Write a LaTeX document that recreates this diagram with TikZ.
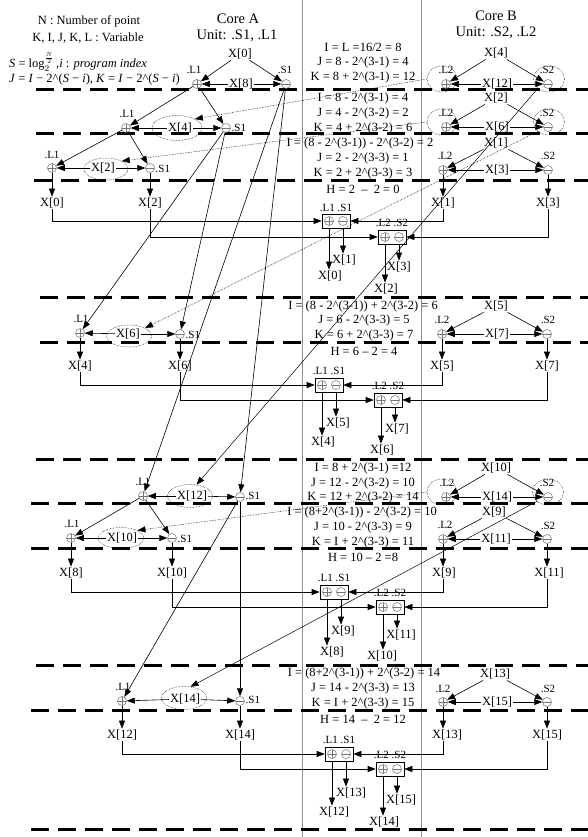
\documentclass[tikz,border=0pt]{standalone}
\usepackage{fontspec}
\setmainfont{Liberation Serif}
\usetikzlibrary{arrows.meta,shapes.geometric,calc}
\newcommand{\crt}{\textasciicircum}
\begin{document}
\begin{tikzpicture}[x=1pt,y=-1pt,
  lbl/.style={font=\fontsize{12.5}{14}\selectfont, inner sep=1pt},
  sml/.style={font=\fontsize{11}{12}\selectfont, inner sep=0.5pt},
  hdr/.style={font=\fontsize{14.5}{16}\selectfont, inner sep=1pt},
  eq/.style={font=\fontsize{12.5}{14}\selectfont, inner sep=0.5pt},
  opp/.style={circle, draw=black!55, line width=0.5pt, minimum size=9pt, inner sep=0pt,
    path picture={\draw[black!55,line width=0.5pt] (path picture bounding box.west) -- (path picture bounding box.east) (path picture bounding box.north) -- (path picture bounding box.south);}},
  opm/.style={circle, draw=black!55, line width=0.5pt, minimum size=9pt, inner sep=0pt,
    path picture={\draw[black!55,line width=0.5pt] (path picture bounding box.west) -- (path picture bounding box.east);}},
  arr/.style={-{Triangle[length=8pt,width=6pt]}, line width=0.6pt},
  dell/.style={ellipse, draw, densely dotted, line width=0.5pt, inner sep=0pt},
  dashln/.style={line width=3pt, dash pattern=on 18pt off 9pt},
  vline/.style={draw=black!45, line width=0.5pt},
  mbox/.style={draw, line width=0.6pt, minimum width=28pt, minimum height=14pt, inner sep=0pt},
  crossd/.style={arr, densely dotted, line width=0.5pt},
  crosss/.style={arr, line width=0.5pt}
]
\useasboundingbox (0,0) rectangle (588,837);
\fill[white] (0,0) rectangle (588,837);
% column lines
\draw[vline] (302,0) -- (302,837);
\draw[vline] (421,0) -- (421,837);
% dashed stage lines
\foreach \xs/\yy in {36/90,36/134,34/181,40/297,40/342,36/459,31/503,31/548,36/665,31/710,31/829}
  \draw[dashln] (\xs,\yy) -- (588,\yy);

% legend and headers
\node[lbl] (leg1) at (89,21) {N : Number of point};
\node[lbl] (leg2) at (88,38) {K, I, J, K, L : Variable};
\node[lbl,anchor=west] (leg3) at (8,62) {\textit{S} = log$^{\frac{N}{2}}_{2}$\,,\textit{i} : \textit{program index}};
\node[lbl,anchor=west] (leg4) at (8,79) {\textit{J} = \textit{I} − 2\crt(\textit{S} − \textit{i}), \textit{K} = \textit{I} − 2\crt(\textit{S} − \textit{i})};
\node[hdr] (hA1) at (238,19) {Core A};
\node[hdr] (hA2) at (237,36) {Unit: .S1, .L1};
\node[hdr] (hB1) at (496,16) {Core B};
\node[hdr] (hB2) at (496,33) {Unit: .S2, .L2};

% equations
\node[eq] (e1) at (363,47) {I = L =16/2 = 8};
\node[eq] (e2) at (363,62) {J = 8 - 2\crt(3-1) = 4};
\node[eq] (e3) at (363,77) {K = 8 + 2\crt(3-1) = 12};
\node[eq] (e4) at (363,98) {I = 8 - 2\crt(3-1) = 4};
\node[eq] (e5) at (363,113) {J = 4 - 2\crt(3-2) = 2};
\node[eq] (e6) at (363,128) {K = 4 + 2\crt(3-2) = 6};
\node[eq] (e7) at (360,143) {I = (8 - 2\crt(3-1)) - 2\crt(3-2) = 2};
\node[eq] (e8) at (363,158) {J = 2 - 2\crt(3-3) = 1};
\node[eq] (e9) at (363,173) {K = 2 + 2\crt(3-3) = 3};
\node[eq] (e10) at (363,189) {H = 2 ~–~ 2 = 0};
\node[eq] (e11) at (363,306) {I = (8 - 2\crt(3-1)) + 2\crt(3-2) = 6};
\node[eq] (e12) at (364,320) {J = 6 - 2\crt(3-3) = 5};
\node[eq] (e13) at (364,335) {K = 6 + 2\crt(3-3) = 7};
\node[eq] (e14) at (364,351) {H = 6 – 2 = 4};
\node[eq] (e15) at (363,468) {I = 8 + 2\crt(3-1) =12};
\node[eq] (e16) at (363,483) {J = 12 - 2\crt(3-2) = 10};
\node[eq] (e17) at (363,497) {K = 12 + 2\crt(3-2) = 14};
\node[eq] (e18) at (362,512) {I = (8+2\crt(3-1)) - 2\crt(3-2) = 10};
\node[eq] (e19) at (363,527) {J = 10 - 2\crt(3-3) = 9};
\node[eq] (e20) at (363,542) {K = I + 2\crt(3-3) = 11};
\node[eq] (e21) at (363,557) {H = 10 – 2 =8};
\node[eq] (e22) at (364,673) {I = (8+2\crt(3-1)) + 2\crt(3-2) = 14};
\node[eq] (e23) at (363,688) {J = 14 - 2\crt(3-3) = 13};
\node[eq] (e24) at (363,703) {K = I + 2\crt(3-3) = 15};
\node[eq] (e25) at (363,719) {H = 14 ~–~ 2 = 12};

% ================= Core A =================
% A1
\node[lbl] (a1t) at (240,54) {X[0]};
\node[opp] (a1p) at (197,84) {};
\node[sml] (a1pl) at (194,70) {.L1};
\node[lbl] (a1x) at (241,84) {X[8]};
\node[opm] (a1m) at (286,84) {};
\node[sml] (a1ml) at (285,70) {.S1};
\draw[arr] (a1t) -- (a1p); \draw[arr] (a1t) -- (a1m);
\draw[arr] (a1x) -- (a1p); \draw[arr] (a1x) -- (a1m);
% A2
\node[dell, minimum width=50pt, minimum height=25pt] (a2e) at (177,128) {};
\node[opp] (a2p) at (126,128) {};
\node[sml] (a2pl) at (127,114) {.L1};
\node[lbl] (a2x) at (180,128) {X[4]};
\node[opm] (a2m) at (226,128) {};
\node[sml,anchor=west] (a2ml) at (231,128) {.S1};
\draw[arr] (a2x) -- (a2p); \draw[arr] (a2x) -- (a2m);
\draw[arr] (a1p) -- (a2p); \draw[arr] (a1p) -- (a2m);
% A3
\node[dell, minimum width=44pt, minimum height=22pt] (a3e) at (106,169) {};
\node[opp] (a3p) at (52,168) {};
\node[sml] (a3pl) at (52,155) {.L1};
\node[lbl] (a3x) at (103,168) {X[2]};
\node[opm] (a3m) at (150,168) {};
\node[sml,anchor=west] (a3ml) at (155,169) {.S1};
\draw[arr] (a3x) -- (a3p); \draw[arr] (a3x) -- (a3m);
\draw[arr] (a2p) -- (a3p); \draw[arr] (a2p) -- (a3m);
\node[lbl] (a3o1) at (52,203) {X[0]};
\node[lbl] (a3o2) at (150,203) {X[2]};
\draw[arr] (a3p) -- (a3o1); \draw[arr] (a3m) -- (a3o2);
% A4
\node[dell, minimum width=45pt, minimum height=22pt] (a4e) at (129,336) {};
\node[opp] (a4p) at (80,333) {};
\node[sml] (a4pl) at (81,319) {.L1};
\node[lbl] (a4x) at (128,334) {X[6]};
\node[opm] (a4m) at (180,334) {};
\node[sml,anchor=west] (a4ml) at (185,335) {.S1};
\draw[arr] (a4x) -- (a4p); \draw[arr] (a4x) -- (a4m);
\draw[arr] (a2m) -- (a4p); \draw[arr] (a2m) -- (a4m);
\node[lbl] (a4o1) at (80,366) {X[4]};
\node[lbl] (a4o2) at (180,366) {X[6]};
\draw[arr] (a4p) -- (a4o1); \draw[arr] (a4m) -- (a4o2);
% A5
\node[dell, minimum width=45pt, minimum height=23pt] (a5e) at (190,496) {};
\node[opp] (a5p) at (143,496) {};
\node[sml] (a5pl) at (143,482) {.L1};
\node[lbl] (a5x) at (192,496) {X[12]};
\node[opm] (a5m) at (240,497) {};
\node[sml,anchor=west] (a5ml) at (245,496) {.S1};
\draw[arr] (a5x) -- (a5p); \draw[arr] (a5x) -- (a5m);
\draw[arr] (a1m) -- (a5p); \draw[arr] (a1m) -- (a5m);
% A6
\node[dell, minimum width=46pt, minimum height=21pt] (a6e) at (121,538) {};
\node[opp] (a6p) at (71,538) {};
\node[sml] (a6pl) at (72,524) {.L1};
\node[lbl] (a6x) at (122,538) {X[10]};
\node[opm] (a6m) at (172,538) {};
\node[sml,anchor=west] (a6ml) at (177,539) {.S1};
\draw[arr] (a6x) -- (a6p); \draw[arr] (a6x) -- (a6m);
\draw[arr] (a5p) -- (a6p); \draw[arr] (a5p) -- (a6m);
\node[lbl] (a6o1) at (71,573) {X[8]};
\node[lbl] (a6o2) at (172,573) {X[10]};
\draw[arr] (a6p) -- (a6o1); \draw[arr] (a6m) -- (a6o2);
% A7
\node[dell, minimum width=45pt, minimum height=23pt] (a7e) at (184,698) {};
\node[opp] (a7p) at (122,701) {};
\node[sml] (a7pl) at (123,687) {.L1};
\node[lbl] (a7x) at (185,699) {X[14]};
\node[opm] (a7m) at (240,701) {};
\node[sml,anchor=west] (a7ml) at (245,700) {.S1};
\draw[arr] (a7x) -- (a7p); \draw[arr] (a7x) -- (a7m);
\draw[arr] (a5m) -- (a7p);
\draw[arr] (a5m) -- (a7m);
\node[lbl] (a7o1) at (122,735) {X[12]};
\node[lbl] (a7o2) at (240,735) {X[14]};
\draw[arr] (a7p) -- (a7o1); \draw[arr] (a7m) -- (a7o2);

% ================= Core B =================
% B1
\node[dell, minimum width=30pt, minimum height=26pt] (b1le) at (442,79) {};
\node[dell, minimum width=31pt, minimum height=26pt] (b1me) at (549,79) {};
\node[lbl] (b1t) at (496,53) {X[4]};
\node[opp] (b1p) at (446,84) {};
\node[sml] (b1pl) at (446,70) {.L2};
\node[lbl] (b1x) at (497,84) {X[12]};
\node[opm] (b1m) at (548,84) {};
\node[sml] (b1ml) at (547,70) {.S2};
\draw[arr] (b1t) -- (b1p); \draw[arr] (b1t) -- (b1m);
\draw[arr] (b1x) -- (b1p); \draw[arr] (b1x) -- (b1m);
% B2
\node[dell, minimum width=30pt, minimum height=26pt] (b2le) at (442,122) {};
\node[dell, minimum width=31pt, minimum height=26pt] (b2me) at (549,122) {};
\node[lbl] (b2t) at (496,98) {X[2]};
\node[opp] (b2p) at (446,127) {};
\node[sml] (b2pl) at (446,113) {.L2};
\node[lbl] (b2x) at (497,127) {X[6]};
\node[opm] (b2m) at (548,127) {};
\node[sml] (b2ml) at (547,113) {.S2};
\draw[arr] (b2t) -- (b2p); \draw[arr] (b2t) -- (b2m);
\draw[arr] (b2x) -- (b2p); \draw[arr] (b2x) -- (b2m);
% B3
\node[lbl] (b3t) at (496,143) {X[1]};
\node[opp] (b3p) at (443,170) {};
\node[sml] (b3pl) at (445,156) {.L2};
\node[lbl] (b3x) at (497,170) {X[3]};
\node[opm] (b3m) at (548,170) {};
\node[sml] (b3ml) at (548,156) {.S2};
\draw[arr] (b3t) -- (b3p); \draw[arr] (b3t) -- (b3m);
\draw[arr] (b3x) -- (b3p); \draw[arr] (b3x) -- (b3m);
\node[lbl] (b3o1) at (443,203) {X[1]};
\node[lbl] (b3o2) at (548,203) {X[3]};
\draw[arr] (b3p) -- (b3o1); \draw[arr] (b3m) -- (b3o2);
% B4
\node[lbl] (b4t) at (496,306) {X[5]};
\node[opp] (b4p) at (442,334) {};
\node[sml] (b4pl) at (442,320) {.L2};
\node[lbl] (b4x) at (497,334) {X[7]};
\node[opm] (b4m) at (547,334) {};
\node[sml] (b4ml) at (548,320) {.S2};
\draw[arr] (b4t) -- (b4p); \draw[arr] (b4t) -- (b4m);
\draw[arr] (b4x) -- (b4p); \draw[arr] (b4x) -- (b4m);
\node[lbl] (b4o1) at (442,366) {X[5]};
\node[lbl] (b4o2) at (547,366) {X[7]};
\draw[arr] (b4p) -- (b4o1); \draw[arr] (b4m) -- (b4o2);
% B5
\node[dell, minimum width=30pt, minimum height=26pt] (b5le) at (442,492) {};
\node[dell, minimum width=31pt, minimum height=26pt] (b5me) at (548,492) {};
\node[lbl] (b5t) at (496,468) {X[10]};
\node[opp] (b5p) at (446,497) {};
\node[sml] (b5pl) at (447,483) {.L2};
\node[lbl] (b5x) at (497,497) {X[14]};
\node[opm] (b5m) at (548,497) {};
\node[sml] (b5ml) at (547,483) {.S2};
\draw[arr] (b5t) -- (b5p); \draw[arr] (b5t) -- (b5m);
\draw[arr] (b5x) -- (b5p); \draw[arr] (b5x) -- (b5m);
% B6
\node[lbl] (b6t) at (494,512) {X[9]};
\node[opp] (b6p) at (443,539) {};
\node[sml] (b6pl) at (445,525) {.L2};
\node[lbl] (b6x) at (496,539) {X[11]};
\node[opm] (b6m) at (547,539) {};
\node[sml] (b6ml) at (548,526) {.S2};
\draw[arr] (b6t) -- (b6p); \draw[arr] (b6t) -- (b6m);
\draw[arr] (b6x) -- (b6p); \draw[arr] (b6x) -- (b6m);
\node[lbl] (b6o1) at (444,573) {X[9]};
\node[lbl] (b6o2) at (549,573) {X[11]};
\draw[arr] (b6p) -- (b6p |- b6o1.north); \draw[arr] (b6m) -- (b6m |- b6o2.north);
% B7
\node[lbl] (b7t) at (495,674) {X[13]};
\node[opp] (b7p) at (443,702) {};
\node[sml] (b7pl) at (443,689) {.L2};
\node[lbl] (b7x) at (497,702) {X[15]};
\node[opm] (b7m) at (547,702) {};
\node[sml] (b7ml) at (548,689) {.S2};
\draw[arr] (b7t) -- (b7p); \draw[arr] (b7t) -- (b7m);
\draw[arr] (b7x) -- (b7p); \draw[arr] (b7x) -- (b7m);
\node[lbl] (b7o1) at (447,735) {X[13]};
\node[lbl] (b7o2) at (547,735) {X[15]};
\draw[arr] (b7p) -- (b7p |- b7o1.north); \draw[arr] (b7m) -- (b7m |- b7o2.north);

% ================= merge boxes =================
% row 1
\node[mbox] (m1a) at (336,221) {};
\node[opp] (m1ap) at ($(m1a)+(-7,0)$) {};
\node[opm] (m1am) at ($(m1a)+(7,0)$) {};
\node[sml] (m1al) at (336,208) {.L1 .S1};
\node[mbox] (m1b) at (392,237) {};
\node[opp] (m1bp) at ($(m1b)+(-7,0)$) {};
\node[opm] (m1bm) at ($(m1b)+(7,0)$) {};
\node[sml] (m1bl) at (392,223) {.L2 .S2};
\node[lbl] (m1ao1) at (330,276) {X[0]};
\node[lbl] (m1ao2) at (344,260) {X[1]};
\node[lbl] (m1bo1) at (386,289) {X[2]};
\node[lbl] (m1bo2) at (399,267) {X[3]};
\draw[arr] (m1ap |- m1a.south) -- (m1ap |- m1ao1.north);
\draw[arr] (m1am |- m1a.south) -- (m1am |- m1ao2.north);
\draw[arr] (m1bp |- m1b.south) -- (m1bp |- m1bo1.north);
\draw[arr] (m1bm |- m1b.south) -- (m1bm |- m1bo2.north);
\draw[arr] (a3o1.south) |- (m1a.west);
\draw[arr] (a3o2.south) |- (m1b.west);
\draw[arr] (b3o1.south) |- (m1a.east);
\draw[arr] (b3o2.south) |- (m1b.east);
% row 2
\node[mbox] (m2a) at (329,385) {};
\node[opp] (m2ap) at ($(m2a)+(-7,0)$) {};
\node[opm] (m2am) at ($(m2a)+(7,0)$) {};
\node[sml] (m2al) at (329,371) {.L1 .S1};
\node[mbox] (m2b) at (388,400) {};
\node[opp] (m2bp) at ($(m2b)+(-7,0)$) {};
\node[opm] (m2bm) at ($(m2b)+(7,0)$) {};
\node[sml] (m2bl) at (388,386) {.L2 .S2};
\node[lbl] (m2ao1) at (323,442) {X[4]};
\node[lbl] (m2ao2) at (338,423) {X[5]};
\node[lbl] (m2bo1) at (382,450) {X[6]};
\node[lbl] (m2bo2) at (397,429) {X[7]};
\draw[arr] (m2ap |- m2a.south) -- (m2ap |- m2ao1.north);
\draw[arr] (m2am |- m2a.south) -- (m2am |- m2ao2.north);
\draw[arr] (m2bp |- m2b.south) -- (m2bp |- m2bo1.north);
\draw[arr] (m2bm |- m2b.south) -- (m2bm |- m2bo2.north);
\draw[arr] (a4o1.south) |- (m2a.west);
\draw[arr] (a4o2.south) |- (m2b.west);
\draw[arr] (b4o1.south) |- (m2a.east);
\draw[arr] (b4o2.south) |- (m2b.east);
% row 3
\node[mbox] (m3a) at (334,592) {};
\node[opp] (m3ap) at ($(m3a)+(-7,0)$) {};
\node[opm] (m3am) at ($(m3a)+(7,0)$) {};
\node[sml] (m3al) at (334,578) {.L1 .S1};
\node[mbox] (m3b) at (390,607) {};
\node[opp] (m3bp) at ($(m3b)+(-7,0)$) {};
\node[opm] (m3bm) at ($(m3b)+(7,0)$) {};
\node[sml] (m3bl) at (390,593) {.L2 .S2};
\node[lbl] (m3ao1) at (332,652) {X[8]};
\node[lbl] (m3ao2) at (343,631) {X[9]};
\node[lbl] (m3bo1) at (382,656) {X[10]};
\node[lbl] (m3bo2) at (401,635) {X[11]};
\draw[arr] (m3ap |- m3a.south) -- (m3ap |- m3ao1.north);
\draw[arr] (m3am |- m3a.south) -- (m3am |- m3ao2.north);
\draw[arr] (m3bp |- m3b.south) -- (m3bp |- m3bo1.north);
\draw[arr] (m3bm |- m3b.south) -- (m3bm |- m3bo2.north);
\draw[arr] (a6o1.south) |- (m3a.west);
\draw[arr] (a6o2.south) |- (m3b.west);
\draw[arr] (b6p |- b6o1.south) |- (m3a.east);
\draw[arr] (b6m |- b6o2.south) |- (m3b.east);
% row 4
\node[mbox] (m4a) at (339,754) {};
\node[opp] (m4ap) at ($(m4a)+(-7,0)$) {};
\node[opm] (m4am) at ($(m4a)+(7,0)$) {};
\node[sml] (m4al) at (339,740) {.L1 .S1};
\node[mbox] (m4b) at (390,769) {};
\node[opp] (m4bp) at ($(m4b)+(-7,0)$) {};
\node[opm] (m4bm) at ($(m4b)+(7,0)$) {};
\node[sml] (m4bl) at (390,755) {.L2 .S2};
\node[lbl] (m4ao1) at (334,812) {X[12]};
\node[lbl] (m4ao2) at (351,793) {X[13]};
\node[lbl] (m4bo1) at (384,822) {X[14]};
\node[lbl] (m4bo2) at (401,800) {X[15]};
\draw[arr] (m4ap |- m4a.south) -- (m4ap |- m4ao1.north);
\draw[arr] (m4am |- m4a.south) -- (m4am |- m4ao2.north);
\draw[arr] (m4bp |- m4b.south) -- (m4bp |- m4bo1.north);
\draw[arr] (m4bm |- m4b.south) -- (m4bm |- m4bo2.north);
\draw[arr] (a7o1.south) |- (m4a.west);
\draw[arr] (a7o2.south) |- (m4b.west);
\draw[arr] (b7p |- b7o1.south) |- (m4a.east);
\draw[arr] (b7m |- b7o2.south) |- (m4b.east);

% ================= cross-core transfers =================
\draw[crossd] (b1le.west) -- (a2e.north east);
\draw[crossd] (b2le.west) -- (a3e.north east);
\draw[crossd] (b2me.south west) -- (a4e.north east);
\draw[crosss] (b1me.south west) -- (a5e.60);
\draw[crossd] (b5le.west) -- (a6e.north east);
\draw[crosss] (b5me.south west) -- (a7e.60);
\end{tikzpicture}
\end{document}
